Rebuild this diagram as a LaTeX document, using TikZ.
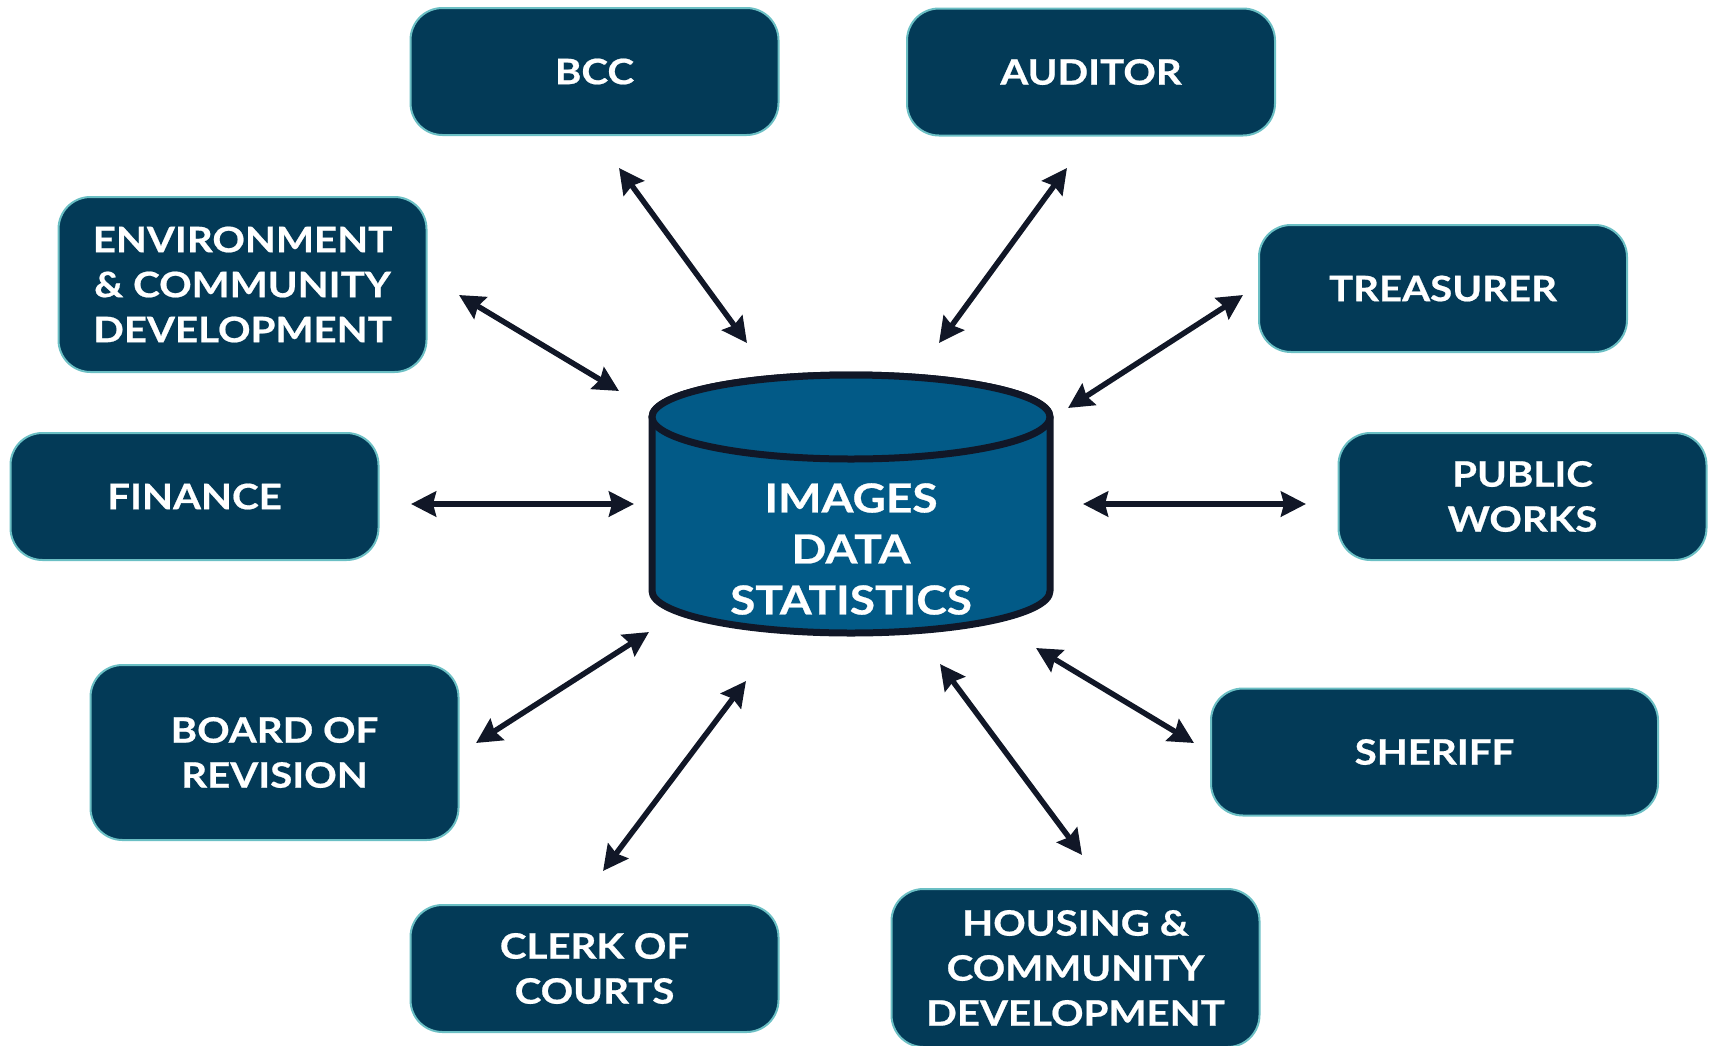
\documentclass[tikz,border=0pt]{standalone}
\usepackage{fontspec}
\setmainfont{Lato}[BoldFont={Lato Bold}, BoldFeatures={FakeStretch=1.15, FakeBold=0.6}]
\usetikzlibrary{arrows.meta}
\definecolor{boxfill}{HTML}{033A57}
\definecolor{boxline}{HTML}{6BBFC4}
\definecolor{cylfill}{HTML}{025A87}
\definecolor{ink}{HTML}{111727}
\tikzset{
  dept/.style={draw=boxline, line width=2pt, fill=boxfill, rounded corners=32pt,
    text=white, font=\fontsize{35}{45}\selectfont\bfseries, align=center,
    minimum width=368pt, minimum height=127pt, inner sep=0pt},
  link/.style={draw=ink, line width=5.5pt,
    {Stealth[length=25pt,width=25pt,inset=3pt]}-{Stealth[length=25pt,width=25pt,inset=3pt]}},
}
\begin{document}
\begin{tikzpicture}[x=1pt,y=-1pt]
\useasboundingbox (0,0) rectangle (1714,1045);
\begin{scope}
\clip (0,0) rectangle (1714,1045);
% department boxes
\node[dept] (bcc) at (594.5,71.5) {BCC};
\node[dept] (aud) at (1091,72) {AUDITOR};
\node[dept, minimum height=175pt] (env) at (242.5,284.5) {ENVIRONMENT\\\& COMMUNITY\\DEVELOPMENT};
\node[dept] (tre) at (1443,288.5) {TREASURER};
\node[dept] (fin) at (194.5,496.5) {FINANCE};
\node[dept] (pub) at (1522.5,496.5) {PUBLIC\\WORKS};
\node[dept, minimum height=175pt] (bor) at (274.5,752.5) {BOARD OF\\REVISION};
\node[dept, minimum width=447pt] (she) at (1434.5,752) {SHERIFF};
\node[dept] (clk) at (594.5,968.5) {CLERK OF\\COURTS};
\node[dept, minimum height=158pt] (hou) at (1075.5,968) {HOUSING \&\\COMMUNITY\\DEVELOPMENT};
\end{scope}
% database cylinder
\path[fill=cylfill, draw=ink, line width=7pt, line join=round]
  (652,417) -- (652,591) arc[start angle=180, end angle=0, x radius=199, y radius=42]
  -- (1050,417) arc[start angle=0, end angle=-180, x radius=199, y radius=42] -- cycle;
\draw[ink, line width=7pt, fill=cylfill] (851,417) ellipse [x radius=199, y radius=42];
\node[inner sep=0pt, text=white, align=center, font=\fontsize{40}{51}\selectfont\bfseries] (db) at (851,549) {IMAGES\\DATA\\STATISTICS};
% connector end points
\coordinate (bccA) at (619,168); \coordinate (bccB) at (747,343);
\coordinate (audA) at (1067,168); \coordinate (audB) at (939,343);
\coordinate (envA) at (459,295); \coordinate (envB) at (619,391);
\coordinate (treA) at (1243,295); \coordinate (treB) at (1068,408);
\coordinate (finA) at (411,504); \coordinate (finB) at (634,504);
\coordinate (pubA) at (1306,504); \coordinate (pubB) at (1083,504);
\coordinate (borA) at (476,743); \coordinate (borB) at (649,632);
\coordinate (clkA) at (603,871); \coordinate (clkB) at (746,681);
\coordinate (houA) at (1082,855); \coordinate (houB) at (940,664);
\coordinate (sheA) at (1194,743); \coordinate (sheB) at (1036,648);
\foreach \n in {bcc,aud,env,tre,fin,pub,bor,clk,hou,she}
  \draw[link] (\n A) -- (\n B);
\end{tikzpicture}
\end{document}
